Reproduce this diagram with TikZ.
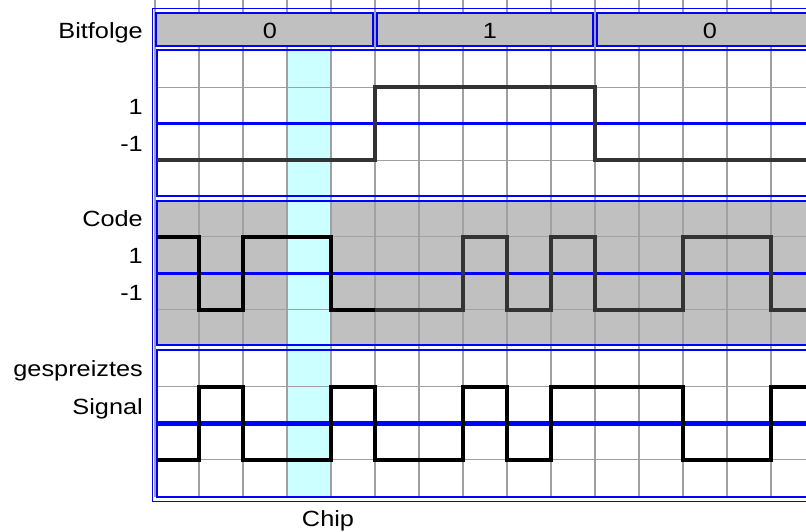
\documentclass[tikz,border=0pt]{standalone}
\usepackage{fontspec}
\setmainfont{Liberation Sans}[FakeStretch=1.15]
\usepackage{xcolor}
\usepackage{tikz}

\definecolor{boxgray}{HTML}{C0C0C0}
\definecolor{chipcyan}{HTML}{CCFFFF}
\definecolor{gridgray}{HTML}{A0A0A0}
\definecolor{siggray}{HTML}{333333}

\begin{document}
\begin{tikzpicture}[
    x=1pt, y=-1pt,
    every node/.style={font=\fontsize{22}{26}\selectfont, inner sep=0pt},
    lbl/.style={anchor=base east},
    gridline/.style={draw=gridgray, line width=1.8pt},
    frame/.style={draw=blue, line width=1.8pt},
    bitbox/.style={draw=blue, line width=1.8pt, fill=boxgray},
    midline/.style={draw=blue, line width=3pt},
    signal/.style={line width=4pt, line join=miter}
]
\useasboundingbox (0,0) rectangle (806,532);
\clip (0,0) rectangle (806,532);

% Background
\fill[boxgray] (157,201) rectangle (820,345);
\fill[chipcyan] (287,50) rectangle (331,497);

% Grid
\foreach \k in {0,...,15}
    \draw[gridline] ({155+44*\k},0) -- ({155+44*\k},497);
\foreach \y in {87.5,160.5,236.5,309.5,386.5,459.5}
    \draw[gridline] (155,\y) -- (820,\y);

% Bits
\draw[bitbox] (156,13) rectangle (373,46);
\draw[bitbox] (377,13) rectangle (593,46);
\draw[bitbox] (597,13) rectangle (820,46);
\node[anchor=base] (b1) at (270,39) {0};
\node[anchor=base] (b2) at (490,39) {1};
\node[anchor=base] (b3) at (710,39) {0};

% Frames
\draw[frame] (152.5,8.5) rectangle (820,501.5);
\draw[frame] (157,50) rectangle (820,196);
\draw[frame] (157,201) rectangle (820,345);
\draw[frame] (157,350) rectangle (820,497);

% Zero lines
\draw[midline] (157,124) -- (820,124);
\draw[midline] (157,273) -- (820,273);
\draw[midline, line width=5pt] (157,423) -- (820,423);

% Signals
\draw[signal, siggray] (157,160.5) -- (375,160.5) -- (375,87.5) -- (595,87.5)
    -- (595,160.5) -- (820,160.5);
\draw[signal, black] (157,236.5) -- (199,236.5) -- (199,309.5) -- (243,309.5)
    -- (243,236.5) -- (331,236.5) -- (331,309.5) -- (377,309.5);
\draw[signal, siggray] (375,309.5) -- (463,309.5) -- (463,236.5) -- (507,236.5)
    -- (507,309.5) -- (551,309.5) -- (551,236.5) -- (595,236.5) -- (595,309.5)
    -- (683,309.5) -- (683,236.5) -- (771,236.5) -- (771,309.5) -- (820,309.5);
\draw[signal, black] (157,459.5) -- (199,459.5) -- (199,386.5) -- (243,386.5)
    -- (243,459.5) -- (331,459.5) -- (331,386.5) -- (375,386.5) -- (375,459.5)
    -- (463,459.5) -- (463,386.5) -- (507,386.5) -- (507,459.5) -- (551,459.5)
    -- (551,386.5) -- (683,386.5) -- (683,459.5) -- (771,459.5) -- (771,386.5)
    -- (820,386.5);

% Labels
\node[lbl] (bitfolge) at (143,39) {Bitfolge};
\node[lbl] (hi1) at (143,115) {1};
\node[lbl] (lo1) at (143,152) {-1};
\node[lbl] (code) at (143,226) {Code};
\node[lbl] (hi2) at (143,263) {1};
\node[lbl] (lo2) at (143,300) {-1};
\node[lbl] (gespr) at (143,376) {gespreiztes};
\node[lbl] (sig) at (143,414) {Signal};
\node[anchor=base] (chip) at (328,526) {Chip};
\end{tikzpicture}
\end{document}
